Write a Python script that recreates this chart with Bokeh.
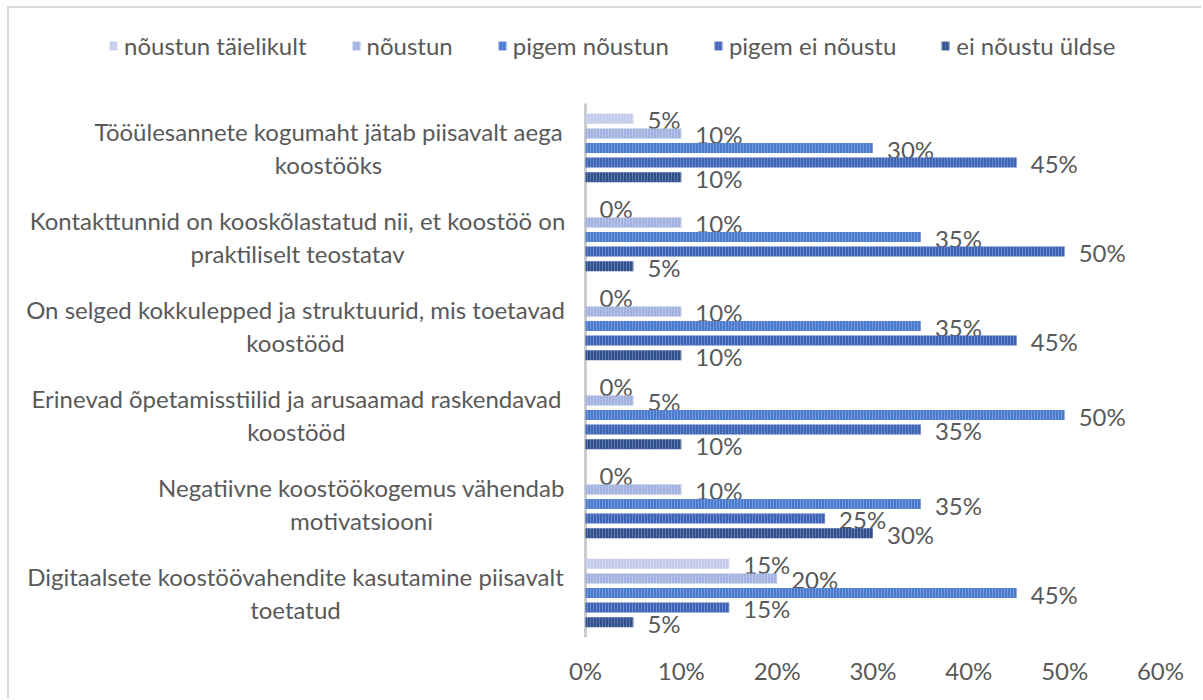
from bokeh.plotting import figure
from bokeh.models import (Range1d, FixedTicker, NumeralTickFormatter, Label,
                          Legend, LegendItem, ColumnDataSource, InlineStyleSheet)
from bokeh.core.properties import value
from bokeh.embed import file_html
from bokeh.resources import INLINE

# ---------------- data ----------------
categories = [
    "Tööülesannete kogumaht jätab piisavalt aega\nkoostööks",
    "Kontakttunnid on kooskõlastatud nii, et koostöö on\npraktiliselt teostatav",
    "On selged kokkulepped ja struktuurid, mis toetavad\nkoostööd",
    "Erinevad õpetamisstiilid ja arusaamad raskendavad\nkoostööd",
    "Negatiivne koostöökogemus vähendab\nmotivatsiooni",
    "Digitaalsete koostöövahendite kasutamine piisavalt\ntoetatud",
]
series_names = ["nõustun täielikult", "nõustun", "pigem nõustun", "pigem ei nõustu", "ei nõustu üldse"]
noustun_taielikult = [5, 0, 0, 0, 0, 15]
noustun = [10, 10, 10, 5, 10, 20]
pigem_noustun = [30, 35, 35, 50, 35, 45]
pigem_ei_noustu = [45, 50, 45, 35, 25, 15]
ei_noustu_uldse = [10, 5, 10, 10, 30, 5]
series_values = [noustun_taielikult, noustun, pigem_noustun, pigem_ei_noustu, ei_noustu_uldse]
x_ticks = [0, 0.1, 0.2, 0.3, 0.4, 0.5, 0.6]

colors = ["#c3cbea", "#a2b1df", "#4a7acd", "#3c63b6", "#2f4f8f"]
FONT = "Lato"
TXT = "#595959"
FS = "24px"

# ---------------- layout (page pixels) ----------------
W, H = 1194, 692
CANVAS_LEFT, CANVAS_TOP = 9, 8
ZERO_X, SIXTY_X = 585, 1160
PLOT_TOP, PLOT_BOTTOM = 103, 637
px_x = (SIXTY_X - ZERO_X) / 0.6
n = len(categories)
px_y = (PLOT_BOTTOM - PLOT_TOP) / n
x_start = (CANVAS_LEFT - ZERO_X) / px_x
x_end = x_start + W / px_x
y_top = -0.5 - (PLOT_TOP - CANVAS_TOP) / px_y

p = figure(width=W, height=H, output_backend="svg", toolbar_location=None,
           x_range=Range1d(x_start, x_end), y_range=Range1d(n - 0.5, y_top),
           min_border_left=0, min_border_right=0, min_border_top=0,
           min_border_bottom=H - (PLOT_BOTTOM - CANVAS_TOP),
           margin=(6, 0, 0, 7))
p.stylesheets = [InlineStyleSheet(css=":host { border-left: 2px solid #d9d9d9; "
                                      "border-top: 2px solid #d9d9d9; }")]
p.outline_line_color = None
p.xgrid.visible = False
p.ygrid.visible = False
p.yaxis.visible = False

xa = p.xaxis[0]
xa.ticker = FixedTicker(ticks=x_ticks)
xa.formatter = NumeralTickFormatter(format="0%")
xa.axis_line_color = None
xa.major_tick_line_color = None
xa.minor_tick_line_color = None
xa.major_label_text_font = FONT
xa.major_label_text_font_size = FS
xa.major_label_text_color = TXT
xa.major_label_standoff = 12

# category axis line
p.segment(x0=[0], x1=[0], y0=[-0.5], y1=[n - 0.5], line_color="#cccccc", line_width=3)

step = 14.6 / px_y
bar_h = 10 / px_y
renderers = []
for k, (name, vals, col) in enumerate(zip(series_names, series_values, colors)):
    ys = [i + (k - 2) * step for i in range(n)]
    src = ColumnDataSource(dict(y=ys, right=[v / 100 for v in vals],
                                lab=[f"{v}%" for v in vals]))
    r = p.hbar(y="y", right="right", left=0, height=bar_h, source=src,
               fill_color=col, line_color=None,
               hatch_pattern="vertical_line", hatch_color="white",
               hatch_alpha=0.25, hatch_scale=3, hatch_weight=1)
    renderers.append((name, r))
    p.text(x="right", y="y", text="lab", source=src, x_offset=14, y_offset=1,
           text_font=value(FONT), text_font_size=FS, text_color=TXT,
           text_baseline="middle", text_align="left")

# category labels (centred multi-line, as in the original)
centers_px = [328, 297, 295, 296, 361, 295]
for i, (cat, cx) in enumerate(zip(categories, centers_px)):
    p.add_layout(Label(x=(cx - ZERO_X) / px_x, y=i, text=cat,
                       text_font=FONT, text_font_size=FS, text_color=TXT,
                       text_align="center", text_baseline="middle",
                       text_line_height=1.12, y_offset=0))

legend = Legend(items=[LegendItem(label=nm, renderers=[r]) for nm, r in renderers],
                orientation="horizontal",
                location=(108 - CANVAS_LEFT, PLOT_BOTTOM - 60),
                label_text_font=FONT, label_text_font_size=FS,
                label_text_color=TXT, glyph_width=10, glyph_height=11,
                label_standoff=6, spacing=44, padding=0, margin=0,
                border_line_color=None, background_fill_alpha=0)
p.add_layout(legend, "center")

open("out.html", "w").write(file_html(p, INLINE))
